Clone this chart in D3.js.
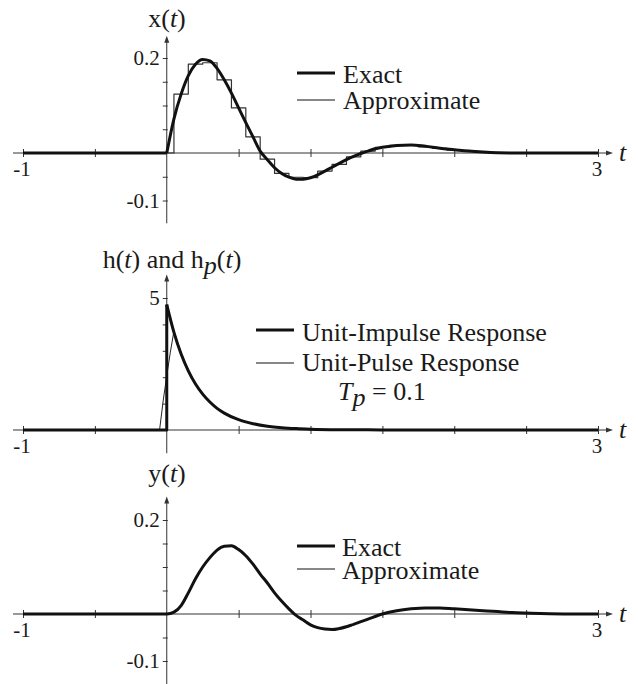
<!DOCTYPE html>
<html>
<head>
<meta charset="utf-8">
<script src="https://cdn.jsdelivr.net/npm/d3@7"></script>
<style>
  body { margin: 0; background: #fff; }
  text { font-family: "Liberation Serif", "Times New Roman", serif; fill: #1a1a1a; }
</style>
</head>
<body>
<svg id="svg_1" width="638" height="684"></svg>
<script>
// ---- data ----
var tTicks = [-1, -0.5, 0.5, 1, 1.5, 2, 2.5, 3];
var tLabels = [-1, 3];

// x(t): exact input and its 0.1-sampled staircase
var xT = [-1, 0, 0.05, 0.1, 0.15, 0.2, 0.25, 0.3, 0.35, 0.4, 0.45, 0.5, 0.55, 0.6, 0.65, 0.7, 0.75, 0.8, 0.85, 0.9, 0.95, 1.0,
  1.05, 1.1, 1.15, 1.2, 1.25, 1.3, 1.35, 1.4, 1.45, 1.5, 1.6, 1.7, 1.8, 1.9, 2.0, 2.1, 2.2, 2.4, 2.6, 3];
var xExact = [0, 0, 0.072, 0.124, 0.163, 0.187, 0.197, 0.194, 0.178, 0.154, 0.126, 0.095, 0.064, 0.034, 0.004, -0.014, -0.031, -0.043, -0.051, -0.055, -0.055, -0.052,
  -0.046, -0.038, -0.030, -0.022, -0.014, -0.007, -0.001, 0.004, 0.009, 0.012, 0.016, 0.017, 0.014, 0.010, 0.007, 0.004, 0.002, 0, 0, 0];
var sampT = [-1, 0, 0.1, 0.2, 0.3, 0.4, 0.5, 0.6, 0.7, 0.8, 0.9, 1.0, 1.1, 1.2, 1.3, 1.4, 1.5, 1.6, 1.7, 1.8, 1.9, 2.0, 2.1, 2.2, 2.3, 2.4, 3];
var xSamp = [0, 0, 0.124, 0.187, 0.190, 0.154, 0.095, 0.034, -0.013, -0.043, -0.051, -0.052, -0.038, -0.024, -0.008, 0.004, 0.012, 0.016, 0.016, 0.013, 0.010, 0.006, 0.004, 0.002, 0.001, 0, 0];

// h(t) impulse response and hp(t) pulse response
var hT = [-1, 0, 0, 0.05, 0.1, 0.15, 0.2, 0.25, 0.3, 0.35, 0.4, 0.5, 0.6, 0.7, 0.8, 0.9, 1.0, 1.2, 1.4, 1.6, 2.0, 3];
var hImp = [0, 0, 4.75, 3.7, 2.88, 2.24, 1.74, 1.36, 1.06, 0.82, 0.64, 0.39, 0.24, 0.145, 0.088, 0.054, 0.033, 0.012, 0.005, 0.002, 0, 0];
var hpT = [-1, -0.05, -0.025, 0, 0.025, 0.05, 0.1, 0.15, 0.2, 0.25, 0.3, 0.35, 0.4, 0.5, 0.6, 0.7, 0.8, 1.0, 1.2, 1.6, 2.0, 3];
var hPulse = [0, 0, 1.1, 2.05, 2.95, 3.75, 2.92, 2.27, 1.77, 1.38, 1.07, 0.83, 0.65, 0.39, 0.24, 0.146, 0.089, 0.033, 0.012, 0.002, 0, 0];

// y(t) output
var yT = [-1, 0, 0.05, 0.1, 0.15, 0.2, 0.25, 0.3, 0.35, 0.4, 0.45, 0.5, 0.55, 0.6, 0.65, 0.7, 0.75, 0.8, 0.85, 0.9, 0.95, 1.0,
  1.05, 1.1, 1.15, 1.2, 1.3, 1.4, 1.5, 1.6, 1.7, 1.8, 1.9, 2.0, 2.2, 2.4, 2.6, 2.8, 3];
var yExact = [0, 0, 0.004, 0.018, 0.045, 0.075, 0.100, 0.120, 0.136, 0.144, 0.145, 0.137, 0.124, 0.106, 0.085, 0.066, 0.045, 0.027, 0.011, -0.003, -0.013, -0.023,
  -0.029, -0.032, -0.033, -0.031, -0.022, -0.011, 0, 0.007, 0.011, 0.013, 0.013, 0.011, 0.007, 0.003, 0.001, 0, 0];
var yApprox = [0, 0.0005, 0.005, 0.019, 0.045, 0.075, 0.100, 0.120, 0.136, 0.144, 0.145, 0.137, 0.124, 0.106, 0.085, 0.066, 0.045, 0.027, 0.011, -0.003, -0.013, -0.023,
  -0.029, -0.032, -0.033, -0.031, -0.022, -0.011, 0, 0.007, 0.011, 0.013, 0.013, 0.011, 0.007, 0.003, 0.001, 0, 0];

var smallTicks = [-0.1, -0.05, 0.05, 0.1, 0.15, 0.2];
var smallLabels = [0.2, -0.1];
var hTicks = [1, 2, 3, 4, 5];
var hLabels = [5];

// ---- drawing ----
var AX = "#333";
var svg = d3.select("#svg_1");
var xscale = d3.scaleLinear().domain([-1, 3]).range([23, 598]);

function zip(ts, vs) {
  return ts.map(function (t, i) { return { t: t, v: vs[i] }; });
}

function drawAxes(yscale, ext, yTicks, yLabels) {
  var y0 = yscale(0), x0 = xscale(0);
  var g = svg.append("g");

  // x axis line + arrow
  g.append("line").attr("x1", 13).attr("x2", 608).attr("y1", y0).attr("y2", y0)
    .attr("stroke", AX).attr("stroke-width", 1);
  g.append("path").attr("d", "M606," + (y0 - 2.5) + "L613," + y0 + "L606," + (y0 + 2.5) + "Z").attr("fill", AX);

  var xa = g.append("g").attr("transform", "translate(0," + y0 + ")")
    .call(d3.axisBottom(xscale).tickValues(tTicks).tickSize(4).tickFormat(""));
  xa.select(".domain").remove();
  xa.selectAll(".tick line").attr("y1", -4).attr("stroke", AX);

  // y axis line + arrow
  var yTop = yscale(ext[1]);
  g.append("line").attr("x1", x0).attr("x2", x0).attr("y1", yscale(ext[0])).attr("y2", yTop + 4)
    .attr("stroke", AX).attr("stroke-width", 1);
  g.append("path").attr("d", "M" + (x0 - 2.5) + "," + (yTop + 6) + "L" + x0 + "," + (yTop - 1) + "L" + (x0 + 2.5) + "," + (yTop + 6) + "Z").attr("fill", AX);

  var ya = g.append("g").attr("transform", "translate(" + x0 + ",0)")
    .call(d3.axisLeft(yscale).tickValues(yTicks).tickSize(4).tickFormat(""));
  ya.select(".domain").remove();
  ya.selectAll(".tick line").attr("x2", 1).attr("x1", -4).attr("stroke", AX);

  // labels
  g.selectAll(".xl").data(tLabels).enter().append("text")
    .attr("x", function (d) { return xscale(d) - 1; })
    .attr("y", y0 + 23)
    .attr("text-anchor", "middle")
    .style("font-size", "21px")
    .text(function (d) { return d; });
  g.selectAll(".yl").data(yLabels).enter().append("text")
    .attr("x", x0 - 7)
    .attr("y", function (d) { return yscale(d) + 7; })
    .attr("text-anchor", "end")
    .style("font-size", "21px")
    .text(function (d) { return d; });
  g.append("text").attr("x", 619).attr("y", y0 + 8)
    .style("font-size", "26px").style("font-style", "italic").text("t");
}

function path(data, yscale, w, curve, col) {
  var line = d3.line()
    .x(function (d) { return xscale(d.t); })
    .y(function (d) { return yscale(d.v); })
    .curve(curve || d3.curveLinear);
  svg.append("path")
    .attr("fill", "none")
    .attr("stroke", col || "#111")
    .attr("stroke-width", w)
    .attr("stroke-linejoin", "round")
    .attr("d", line(data));
}

function legend(x1, x2, rows) {
  rows.forEach(function (r) {
    svg.append("line").attr("x1", x1).attr("x2", x2).attr("y1", r.ly).attr("y2", r.ly)
      .attr("stroke", "#111").attr("stroke-width", r.w);
    svg.append("text").attr("x", r.tx).attr("y", r.ty).style("font-size", "26px").text(r.text);
  });
}

function title(x, y, parts) {
  var t = svg.append("text").attr("x", x).attr("y", y).attr("text-anchor", "middle").style("font-size", "26px");
  parts.forEach(function (p) {
    var s = t.append("tspan").text(p.s);
    if (p.i) s.style("font-style", "italic");
    if (p.dy) s.attr("dy", p.dy);
    if (p.fs) s.style("font-size", p.fs);
  });
}

// panel 1: x(t)
var y1 = d3.scaleLinear().domain([0, 0.2]).range([153, 58]);
drawAxes(y1, [-0.148, 0.245], smallTicks, smallLabels);
path(zip(sampT, xSamp), y1, 1.2, d3.curveStep, "#333");
var xd = zip(xT, xExact);
path(xd.slice(0, 2), y1, 3);
path(xd.slice(1), y1, 3, d3.curveMonotoneX);
title(167, 27, [{ s: "x(" }, { s: "t", i: true }, { s: ")" }]);
legend(297, 335, [
  { ly: 73, w: 3, tx: 343, ty: 83, text: "Exact" },
  { ly: 100, w: 1, tx: 343, ty: 109, text: "Approximate" }
]);

// panel 2: h(t), hp(t)
var y2 = d3.scaleLinear().domain([0, 5]).range([430, 298]);
drawAxes(y2, [-0.88, 5.85], hTicks, hLabels);
path(zip(hpT, hPulse), y2, 1, d3.curveLinear, "#222");
var hd = zip(hT, hImp);
path(hd.slice(0, 3), y2, 3);
path(hd.slice(2), y2, 3, d3.curveMonotoneX);
title(172, 268, [
  { s: "h(" }, { s: "t", i: true }, { s: ") and h" },
  { s: "p", i: true, dy: 6 }, { s: "(", dy: -6 }, { s: "t", i: true }, { s: ")" }
]);
legend(256, 294, [
  { ly: 330, w: 3, tx: 302, ty: 341, text: "Unit-Impulse Response" },
  { ly: 363, w: 1, tx: 302, ty: 371, text: "Unit-Pulse Response" }
]);
var tp = svg.append("text").attr("x", 338).attr("y", 400).style("font-size", "26px");
tp.append("tspan").style("font-style", "italic").text("T");
tp.append("tspan").style("font-style", "italic").attr("dy", 6).text("p");
tp.append("tspan").attr("dy", -6).text(" = 0.1");

// panel 3: y(t)
var y3 = d3.scaleLinear().domain([0, 0.2]).range([614, 520]);
drawAxes(y3, [-0.149, 0.248], smallTicks, smallLabels);
path(zip(yT, yApprox), y3, 1, d3.curveMonotoneX, "#222");
path(zip(yT, yExact), y3, 3, d3.curveMonotoneX);
title(167, 482, [{ s: "y(" }, { s: "t", i: true }, { s: ")" }]);
legend(297, 335, [
  { ly: 546, w: 3, tx: 342, ty: 556, text: "Exact" },
  { ly: 569, w: 1, tx: 342, ty: 579, text: "Approximate" }
]);
</script>
</body>
</html>
